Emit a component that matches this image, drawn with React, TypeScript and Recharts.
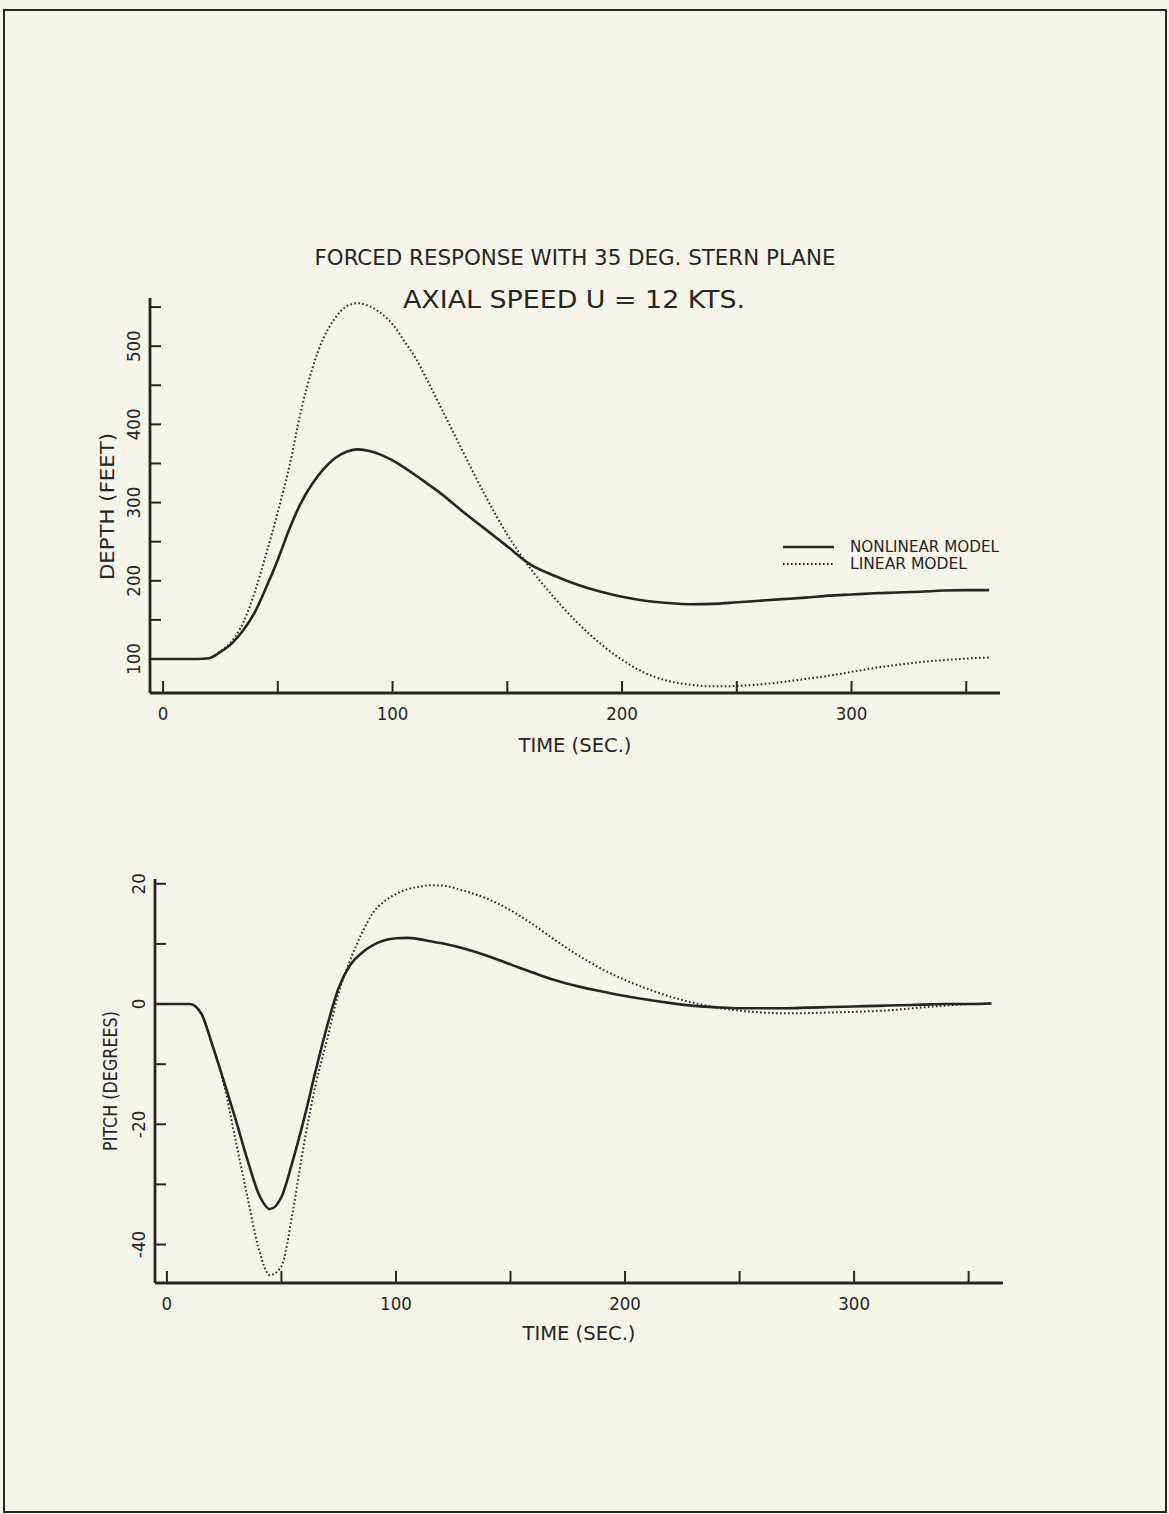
import React from 'react';
import { LineChart, Line, XAxis, YAxis, Legend, Label } from 'recharts';

const INK = '#262626';
const PAPER = '#f6f5ea';
const FONT = "'Liberation Sans Narrow', 'DejaVu Sans Condensed', 'Arial Narrow', sans-serif";

const TITLE = 'FORCED RESPONSE WITH 35 DEG. STERN PLANE';
const SUBTITLE = 'AXIAL SPEED U = 12 KTS.';
const X_TITLE = 'TIME (SEC.)';
const DEPTH_TITLE = 'DEPTH (FEET)';
const PITCH_TITLE = 'PITCH (DEGREES)';
const SERIES_NAMES = ['NONLINEAR MODEL', 'LINEAR MODEL'];

// sample times (seconds)
const TIME = [
  -5, 0, 5, 10, 15, 20, 25, 30, 35, 40, 45, 50, 55, 60, 65, 70, 75, 80, 85, 90, 95, 100, 105, 110, 115, 120,
  130, 140, 150, 160, 170, 180, 190, 200, 210, 220, 230, 240, 250, 260, 270, 280, 290, 300, 310, 320, 330, 340, 350, 360,
];

// depth (feet)
const DEPTH_NONLINEAR = [
  100, 100, 100, 100, 100, 101, 109, 120, 137, 160, 192, 227, 266, 299, 324, 343, 357, 365, 368, 366, 361, 354, 345, 335, 324.5, 314,
  290, 267, 244, 221, 207, 195.5, 186.5, 179.5, 174.5, 171.5, 170, 170.5, 172.5, 174.5, 176.5, 178.5, 181, 182.5, 184, 185, 186, 187.5, 188, 188,
];
const DEPTH_LINEAR = [
  100, 100, 100, 100, 100, 101, 110, 123, 147, 186, 235, 288, 346, 416, 471, 511, 536, 551, 555, 551, 542, 528, 507, 485, 457, 428,
  369, 311, 259, 216, 180, 148, 121, 99, 82, 72, 67, 65, 65.5, 67.5, 70.5, 74.5, 78.5, 83.5, 88.5, 92.5, 96, 98.5, 100.5, 102,
];

// pitch (degrees)
const PITCH_NONLINEAR = [
  0, 0, 0, 0, -1.6, -7, -13, -19.2, -25.7, -31.5, -34.1, -32.1, -26, -18.9, -11, -3.6, 2.7, 6.5, 8.5, 9.8, 10.6, 10.95, 11, 10.8, 10.45, 10.1,
  9.2, 8.0, 6.6, 5.2, 3.9, 2.9, 2.1, 1.35, 0.7, 0.15, -0.3, -0.55, -0.7, -0.7, -0.7, -0.6, -0.5, -0.4, -0.3, -0.2, -0.1, 0, 0, 0.1,
];
const PITCH_LINEAR = [
  0, 0, 0, 0, -1.6, -7, -13.5, -22.7, -31.8, -40.6, -45.1, -43.6, -34.4, -22.9, -13.3, -5.8, 1.9, 7.3, 11.7, 15.2, 17.1, 18.3, 19.1, 19.5, 19.75, 19.7,
  18.8, 17.5, 15.6, 13.2, 10.5, 8.0, 5.8, 4.0, 2.5, 1.2, 0.2, -0.6, -1.1, -1.4, -1.55, -1.5, -1.4, -1.3, -1.15, -0.9, -0.55, -0.25, 0, 0.1,
];

// axis ticks
const TIME_TICKS = [0, 50, 100, 150, 200, 250, 300, 350];
const TIME_LABELS = [0, 100, 200, 300];
const DEPTH_TICKS = [100, 150, 200, 250, 300, 350, 400, 450, 500, 550];
const DEPTH_LABELS = [100, 200, 300, 400, 500];
const PITCH_TICKS = [-40, -30, -20, -10, 0, 10, 20];
const PITCH_LABELS = [-40, -20, 0, 20];

const depthData = TIME.map((t, i) => ({ t, nonlinear: DEPTH_NONLINEAR[i], linear: DEPTH_LINEAR[i] }));
const pitchData = TIME.map((t, i) => ({ t, nonlinear: PITCH_NONLINEAR[i], linear: PITCH_LINEAR[i] }));

const textStyle = { fontFamily: FONT, fill: INK };

const makeXTick = (labels: number[]) => (props: any) => {
  const { x, y, payload } = props;
  const v = payload.value;
  return (
    <g>
      <line x1={x} x2={x} y1={y} y2={y - 12} stroke={INK} strokeWidth={2} />
      {labels.includes(v) && (
        <text x={x} y={y + 20} textAnchor="middle" dominantBaseline="central" fontSize={18.5} style={textStyle}>
          {String(v)}
        </text>
      )}
    </g>
  );
};

const makeYTick = (labels: number[]) => (props: any) => {
  const { x, y, payload } = props;
  const v = payload.value;
  const lx = x - 16;
  return (
    <g>
      <line x1={x} x2={x + 11} y1={y} y2={y} stroke={INK} strokeWidth={2} />
      {labels.includes(v) && (
        <text
          x={lx}
          y={y}
          transform={`rotate(-90 ${lx} ${y})`}
          textAnchor="middle"
          dominantBaseline="central"
          fontSize={18.5}
          style={textStyle}
        >
          {String(v)}
        </text>
      )}
    </g>
  );
};

const xTitle = (dy: number, length: number) => (props: any) => {
  const { viewBox } = props;
  return (
    <text
      x={viewBox.x + viewBox.width / 2}
      y={viewBox.y + dy}
      textAnchor="middle"
      dominantBaseline="central"
      fontSize={20}
      textLength={length}
      lengthAdjust="spacingAndGlyphs"
      style={textStyle}
    >
      {X_TITLE}
    </text>
  );
};

const yTitle = (text: string, dx: number, dy: number, length: number) => (props: any) => {
  const { viewBox } = props;
  const cx = viewBox.x + viewBox.width - dx;
  const cy = viewBox.y + viewBox.height / 2 + dy;
  return (
    <text
      x={cx}
      y={cy}
      transform={`rotate(-90 ${cx} ${cy})`}
      textAnchor="middle"
      dominantBaseline="central"
      fontSize={20}
      textLength={length}
      lengthAdjust="spacingAndGlyphs"
      style={textStyle}
    >
      {text}
    </text>
  );
};

const renderLegend = () => (
  <svg width={240} height={34} style={{ display: 'block', overflow: 'visible' }}>
    <line x1={0} x2={51} y1={8} y2={8} stroke={INK} strokeWidth={2.5} />
    <text
      x={67}
      y={8}
      dominantBaseline="central"
      fontSize={15}
      textLength={149}
      lengthAdjust="spacingAndGlyphs"
      style={textStyle}
    >
      {SERIES_NAMES[0]}
    </text>
    <line x1={0} x2={51} y1={25} y2={25} stroke={INK} strokeWidth={2} strokeDasharray="1.6 2.4" />
    <text
      x={67}
      y={25}
      dominantBaseline="central"
      fontSize={15}
      textLength={117}
      lengthAdjust="spacingAndGlyphs"
      style={textStyle}
    >
      {SERIES_NAMES[1]}
    </text>
  </svg>
);

const axisLineStyle = { stroke: INK, strokeWidth: 2.8 };

export default function App() {
  return (
    <div
      style={{
        position: 'absolute',
        left: 0,
        top: 0,
        width: 1169,
        height: 1514,
        background: PAPER,
        overflow: 'hidden',
      }}
    >
      {/* page frame */}
      <div
        style={{
          position: 'absolute',
          left: 3,
          top: 9,
          width: 1160,
          height: 1500,
          border: `2px solid ${INK}`,
        }}
      />

      {/* headings */}
      <svg width={1169} height={330} style={{ position: 'absolute', left: 0, top: 0 }}>
        <text
          x={575}
          y={257}
          textAnchor="middle"
          dominantBaseline="central"
          fontSize={22}
          textLength={521}
          lengthAdjust="spacingAndGlyphs"
          style={textStyle}
        >
          {TITLE}
        </text>
        <text
          x={574}
          y={300}
          textAnchor="middle"
          dominantBaseline="central"
          fontSize={24}
          textLength={342}
          lengthAdjust="spacingAndGlyphs"
          style={textStyle}
        >
          {SUBTITLE}
        </text>
      </svg>

      {/* depth response */}
      <div style={{ position: 'absolute', left: 0, top: 0 }}>
        <LineChart
          width={1169}
          height={780}
          data={depthData}
          margin={{ top: 298, right: 169, bottom: 47, left: 90 }}
        >
          <XAxis
            dataKey="t"
            type="number"
            domain={[-5.7, 364.7]}
            ticks={TIME_TICKS}
            interval={0}
            allowDataOverflow
            height={40}
            tickSize={0}
            tickMargin={0}
            tickLine={false}
            axisLine={axisLineStyle}
            tick={makeXTick(TIME_LABELS)}
          >
            <Label content={xTitle(52, 113)} />
          </XAxis>
          <YAxis
            type="number"
            domain={[56.5, 561.6]}
            ticks={DEPTH_TICKS}
            interval={0}
            allowDataOverflow
            width={60}
            tickSize={0}
            tickMargin={0}
            tickLine={false}
            axisLine={axisLineStyle}
            tick={makeYTick(DEPTH_LABELS)}
          >
            <Label content={yTitle(DEPTH_TITLE, 43, 11, 147)} />
          </YAxis>
          <Legend
            layout="horizontal"
            verticalAlign="middle"
            content={renderLegend}
            wrapperStyle={{ left: 783, top: 539, width: 240 }}
          />
          <Line
            type="monotone"
            dataKey="nonlinear"
            name={SERIES_NAMES[0]}
            stroke={INK}
            strokeWidth={2.6}
            dot={false}
            isAnimationActive={false}
          />
          <Line
            type="monotone"
            dataKey="linear"
            name={SERIES_NAMES[1]}
            stroke={INK}
            strokeWidth={2}
            strokeDasharray="1.6 2.4"
            dot={false}
            isAnimationActive={false}
          />
        </LineChart>
      </div>

      {/* pitch response */}
      <div style={{ position: 'absolute', left: 0, top: 800 }}>
        <LineChart
          width={1169}
          height={600}
          data={pitchData}
          margin={{ top: 79, right: 166, bottom: 77, left: 95 }}
        >
          <XAxis
            dataKey="t"
            type="number"
            domain={[-5.2, 365]}
            ticks={TIME_TICKS}
            interval={0}
            allowDataOverflow
            height={40}
            tickSize={0}
            tickMargin={0}
            tickLine={false}
            axisLine={axisLineStyle}
            tick={makeXTick(TIME_LABELS)}
          >
            <Label content={xTitle(50, 113)} />
          </XAxis>
          <YAxis
            type="number"
            domain={[-46.4, 20.8]}
            ticks={PITCH_TICKS}
            interval={0}
            allowDataOverflow
            width={60}
            tickSize={0}
            tickMargin={0}
            tickLine={false}
            axisLine={axisLineStyle}
            tick={makeYTick(PITCH_LABELS)}
          >
            <Label content={yTitle(PITCH_TITLE, 45, 0, 140)} />
          </YAxis>
          <Line
            type="monotone"
            dataKey="nonlinear"
            name={SERIES_NAMES[0]}
            stroke={INK}
            strokeWidth={2.6}
            dot={false}
            isAnimationActive={false}
          />
          <Line
            type="monotone"
            dataKey="linear"
            name={SERIES_NAMES[1]}
            stroke={INK}
            strokeWidth={2}
            strokeDasharray="1.6 2.4"
            dot={false}
            isAnimationActive={false}
          />
        </LineChart>
      </div>
    </div>
  );
}
